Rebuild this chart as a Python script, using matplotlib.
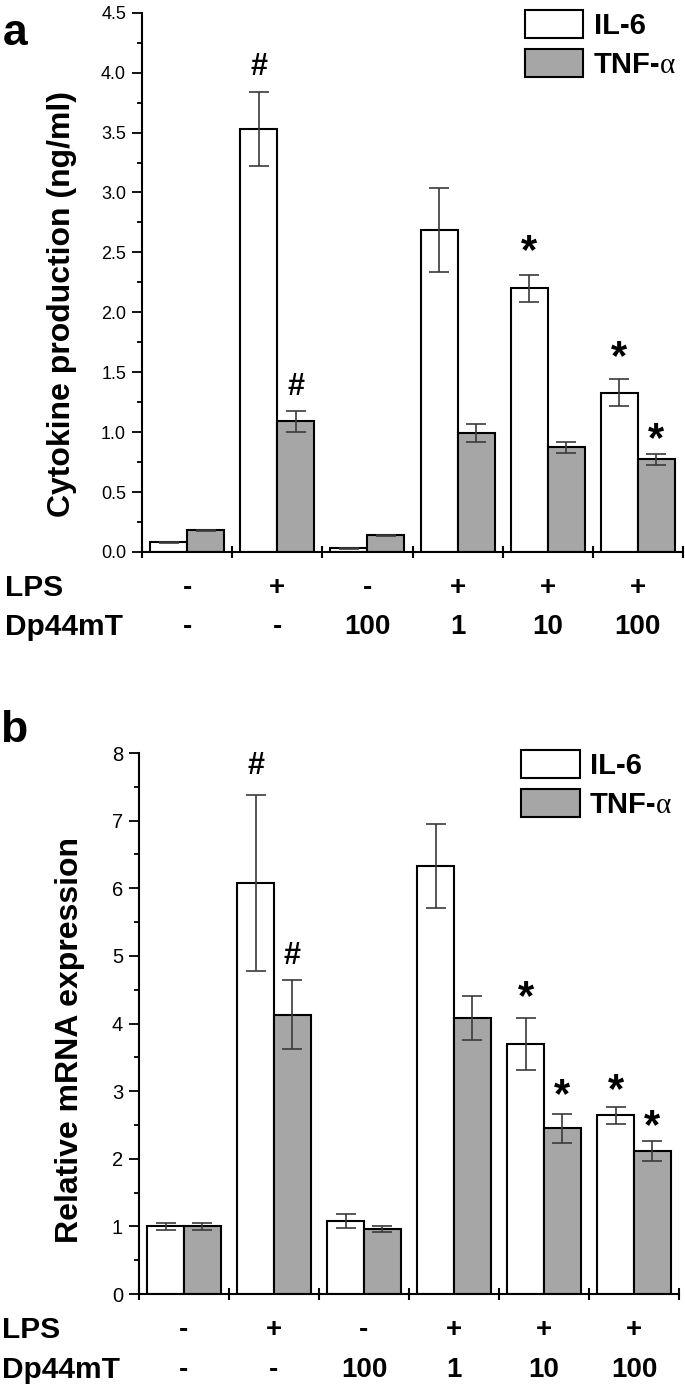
import matplotlib
matplotlib.use("Agg")
import matplotlib.pyplot as plt
from matplotlib.ticker import MultipleLocator, FormatStrFormatter

plt.rcParams['font.family'] = ['Liberation Sans', 'DejaVu Sans']

GREY = "#a6a6a6"
ERR = "#3a3a3a"

groups = [1, 2, 3, 4, 5, 6]
lps = ["-", "+", "-", "+", "+", "+"]
dp44mt = ["-", "-", "100", "1", "10", "100"]

# panel a: cytokine production (ng/ml)
a_il6 = [0.08, 3.53, 0.03, 2.69, 2.20, 1.33]
a_il6_err = [0.005, 0.31, 0.003, 0.35, 0.11, 0.115]
a_tnf = [0.18, 1.09, 0.14, 0.99, 0.875, 0.775]
a_tnf_err = [0.004, 0.085, 0.004, 0.075, 0.045, 0.045]
# significance marks: (group, series, y of mark, symbol)
a_marks = [(2, 0, 4.05, "#"), (2, 1, 1.38, "#"), (5, 0, 2.50, "*"),
           (6, 0, 1.62, "*"), (6, 1, 0.93, "*")]

# panel b: relative mRNA expression
b_il6 = [1.0, 6.08, 1.08, 6.33, 3.70, 2.64]
b_il6_err = [0.05, 1.30, 0.11, 0.62, 0.38, 0.13]
b_tnf = [1.0, 4.13, 0.96, 4.08, 2.45, 2.12]
b_tnf_err = [0.05, 0.51, 0.04, 0.32, 0.21, 0.15]
b_marks = [(2, 0, 7.81, "#"), (2, 1, 5.00, "#"), (5, 0, 4.38, "*"),
           (5, 1, 2.93, "*"), (6, 0, 3.00, "*"), (6, 1, 2.47, "*")]

W = 0.41


def panel(ax, il6, il6_err, tnf, tnf_err, marks, ymax, major, minor, fmt,
          ylabel, letter, tick_fs, lab_x, lab_y, letter_y):
    xs = [g - W / 2 for g in groups]
    xt = [g + W / 2 for g in groups]
    b1 = ax.bar(xs, il6, W, color="white", edgecolor="black", lw=1.5, zorder=2)
    b2 = ax.bar(xt, tnf, W, color=GREY, edgecolor="black", lw=1.5, zorder=2)
    ax.errorbar(xs, il6, yerr=il6_err, fmt="none", ecolor=ERR, elinewidth=1.2,
                capsize=7, capthick=1.2, zorder=3)
    ax.errorbar(xt, tnf, yerr=tnf_err, fmt="none", ecolor=ERR, elinewidth=1.2,
                capsize=7, capthick=1.2, zorder=3)
    for g, s, y, sym in marks:
        x = g - W / 2 if s == 0 else g + W / 2
        ax.text(x, y, sym, ha="center", va="center",
                fontsize=22 if sym == "#" else 30, weight="bold")

    ax.set_xlim(0.5, 6.5)
    ax.set_ylim(0, ymax)
    ax.set_xticks([g + 0.5 for g in [0] + groups])
    ax.set_xticklabels([])
    ax.yaxis.set_major_locator(MultipleLocator(major))
    ax.yaxis.set_minor_locator(MultipleLocator(minor))
    ax.yaxis.set_major_formatter(FormatStrFormatter(fmt))
    for s in ["top", "right"]:
        ax.spines[s].set_visible(False)
    for s in ["left", "bottom"]:
        ax.spines[s].set_linewidth(1.5)
    ax.tick_params(axis="y", which="major", length=7, width=1.3,
                   labelsize=tick_fs, pad=4.5)
    ax.tick_params(axis="y", which="minor", length=3.5, width=1.3)
    ax.tick_params(axis="x", which="major", direction="inout", length=9, width=1.5)

    ax.text(lab_x, lab_y, ylabel, transform=ax.transAxes, rotation=90,
            ha="center", va="center", fontsize=23, weight="bold")
    ax.text(-0.258, letter_y, letter, transform=ax.transAxes, ha="left", va="top",
            fontsize=32, weight="bold")

    tr = ax.get_xaxis_transform()
    ax.text(-0.253, -0.067, "LPS", transform=ax.transAxes, ha="left", va="center",
            fontsize=21.5, weight="bold")
    ax.text(-0.253, -0.14, "Dp44mT", transform=ax.transAxes, ha="left", va="center",
            fontsize=21.5, weight="bold")
    for g, l, d in zip(groups, lps, dp44mt):
        ax.text(g, -0.067, l, transform=tr, ha="center", va="center",
                fontsize=20, weight="bold")
        ax.text(g, -0.14, d, transform=tr, ha="center", va="center",
                fontsize=20, weight="bold")

    leg = ax.legend([b1, b2], ["IL-6", "TNF-"], loc="upper left",
                    bbox_to_anchor=(0.708, 1.005), frameon=False,
                    prop={"weight": "bold", "size": 21}, handlelength=2.0,
                    handleheight=1.1, handletextpad=0.35, labelspacing=0.3,
                    borderpad=0, borderaxespad=0)
    ax.annotate("\u03b1", xy=(1, 0), xycoords=leg.get_texts()[1], ha="left",
                va="bottom", fontsize=21, family="Liberation Serif", zorder=10)


fig = plt.figure(figsize=(6.85, 13.92), dpi=100)
ax1 = fig.add_axes([0.2073, 0.60345, 0.7898, 0.38743])
ax2 = fig.add_axes([0.2029, 0.0704, 0.7883, 0.3886])

panel(ax1, a_il6, a_il6_err, a_tnf, a_tnf_err, a_marks, 4.5, 0.5, 0.25, "%.1f",
      "Cytokine production (ng/ml)", "a", 13, -0.148, 0.46, 1.0)
panel(ax2, b_il6, b_il6_err, b_tnf, b_tnf_err, b_marks, 8, 1, 0.5, "%d",
      "Relative mRNA expression", "b", 14.5, -0.128, 0.47, 1.08)

fig.savefig("out.png", dpi=100, facecolor="white")
